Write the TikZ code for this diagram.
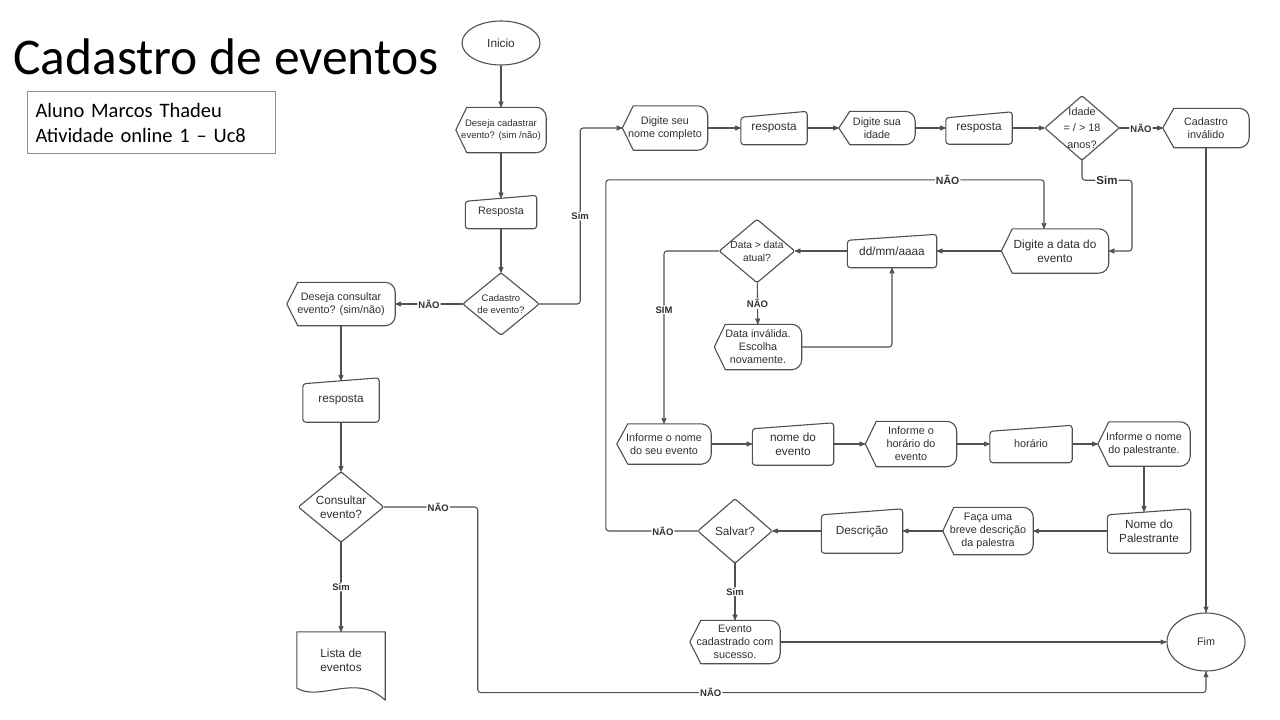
\documentclass[tikz,border=0pt]{standalone}
\usepackage{fontspec}
\setmainfont{Liberation Sans}
\newfontfamily\titulofont{Carlito}
\usetikzlibrary{calc}
\usetikzlibrary{arrows}
\usetikzlibrary{shapes.geometric}
\definecolor{traco}{HTML}{505050}
\definecolor{texto}{HTML}{303030}
\definecolor{azulcaixa}{HTML}{5B9BD5}
\tikzset{
  t9/.style={font=\fontsize{9.5}{11.5}\selectfont},
  t11/.style={font=\fontsize{10.8}{13}\selectfont},
  t12/.style={font=\fontsize{11.8}{14}\selectfont},
  base/.style={inner sep=0pt, align=center, text=texto, t11},
  tela/.style 2 args={base, minimum width=#1pt, minimum height=#2pt},
  entrada/.style 2 args={base, minimum width=#1pt, minimum height=#2pt},
  losango/.style 2 args={base, minimum width=#1pt, minimum height=#2pt},
  terminal/.style 2 args={base, ellipse, draw=traco, line width=1.1pt, minimum width=#1pt, minimum height=#2pt},
  contorno/.style={draw=traco, line width=1.1pt, line join=round},
  seta/.style={contorno, ->, >=stealth', rounded corners=3pt},
  rotulo/.style={fill=white, inner sep=1pt, text=texto, font=\bfseries\fontsize{9.5}{11}\selectfont},
}

\begin{document}
\begin{tikzpicture}[x=1pt,y=-1pt]
\fill[white] (0,0) rectangle (1280,720);
\useasboundingbox (0,0) rectangle (1280,720);

% titulo
\node[anchor=base west, inner sep=0pt, font=\titulofont\fontsize{51.5}{51.5}\selectfont] (titulo) at (13,74) {Cadastro de eventos};
\node[draw=azulcaixa, line width=1pt, anchor=north west, minimum height=62pt, text width=232pt, inner xsep=8pt, inner ysep=0pt, align=left, font=\titulofont\fontsize{20.5}{25}\selectfont] (aluno) at (27,91) {Aluno Marcos Thadeu\\Atividade online 1 – Uc8};

% coluna inicial
\node[terminal={78}{44}, t12] (ini) at (501,43) {Inicio};
\node[tela={90}{45}, t9] (dcad) at (501,130) {Deseja cadastrar\\evento? (sim /não)};
\node[entrada={71}{33}] (resp1) at (501,212) {Resposta};
\node[losango={76}{62}, t9] (cad) at (501,304) {Cadastro\\de evento?};

% consulta
\node[tela={108}{43}] (dcon) at (341,304) {Deseja consultar\\evento? (sim/não)};
\node[entrada={76}{44}, t12] (respc) at (341,400) {resposta};
\node[losango={85}{70}, t12] (cons) at (341,507) {Consultar\\evento?};
\node[base, minimum width=88pt, minimum height=56pt, t12] (lista) at (341,660) {Lista de\\eventos};

% linha de cima
\node[tela={85}{44}] (nomec) at (665,128) {Digite seu\\nome completo};
\node[entrada={66}{33}, t12] (r2) at (774,128) {resposta};
\node[tela={76}{33}] (idade) at (877,128) {Digite sua\\idade};
\node[entrada={66}{32}, t12] (r3) at (979,128) {resposta};
\node[losango={74}{64}, font=\fontsize{10.8}{16.5}\selectfont] (idd) at (1082,128) {Idade\\= / > 18\\anos?};
\node[tela={86}{39}] (inval) at (1206,128) {Cadastro\\inválido};

% data
\node[tela={107}{44}, t12] (data) at (1055,251) {Digite a data do\\evento};
\node[entrada={89}{33}, t12] (dd) at (892,251) {dd/mm/aaaa};
\node[losango={75}{63}, font=\fontsize{10.2}{13}\selectfont] (dval) at (757,251) {Data > data\\atual?};
\node[tela={87}{45}] (dinv) at (758,347) {Data inválida.\\Escolha\\novamente.};

% evento
\node[tela={94}{40}] (infn) at (664,444) {Informe o nome\\do seu evento};
\node[entrada={81}{42}, t12] (nev) at (793,444) {nome do\\evento};
\node[tela={91}{45}] (infh) at (911,444) {Informe o\\horário do\\evento};
\node[entrada={82}{37}] (hor) at (1031,444) {horário};
\node[tela={92}{44}] (infp) at (1144,444) {Informe o nome\\do palestrante.};
\node[entrada={83}{44}, t12] (npal) at (1149,531) {Nome do\\Palestrante};
\node[tela={90}{47}] (faca) at (988,531) {Faça uma\\breve descrição\\da palestra};
\node[entrada={81}{44}, t12] (descr) at (862,531) {Descrição};
\node[losango={74}{64}, t12] (salvar) at (735,531) {Salvar?};
\node[tela={90}{43}] (evt) at (735,642) {Evento\\cadastrado com\\sucesso.};
\node[terminal={78}{58}] (fim) at (1206,642) {Fim};

% contornos
\foreach \n in {dcad,dcon,nomec,idade,inval,data,dinv,infn,infh,infp,faca,evt}
  \draw[contorno] (\n.west) -- ($(\n.north west)+(11,0)$) -- ($(\n.north east)+(-10,0)$)
    arc[start angle=90, end angle=0, radius=10pt] -- ($(\n.south east)+(0,-10)$)
    arc[start angle=0, end angle=-90, radius=10pt] -- ($(\n.south west)+(11,0)$) -- cycle;
\foreach \n in {resp1,respc,r2,r3,dd,nev,hor,npal,descr}
  \draw[contorno, rounded corners=3pt] (\n.south west) -- ($(\n.north west)+(0,6)$) -- (\n.north east) -- (\n.south east) -- cycle;
\foreach \n in {cad,cons,idd,dval,salvar}
  \draw[contorno, rounded corners=1.5pt] (\n.north) -- (\n.east) -- (\n.south) -- (\n.west) -- cycle;
\draw[contorno] (lista.south west) -- (lista.north west) -- (lista.north east) -- ($(lista.south east)+(0,12)$)
  .. controls ($(lista.south)+(15,-16)$) and ($(lista.south)+(-20,14)$) .. (lista.south west);

% ligacoes
\draw[seta] (ini) -- (dcad);
\draw[seta, shorten >=-3pt] (dcad) -- (resp1);
\draw[seta] (resp1) -- (cad);
\draw[seta] (cad.west) -- node[rotulo]{NÃO} (dcon.east);
\draw[seta] (cad.east) -- ++(41,0) |- node[rotulo, pos=.25]{Sim} (nomec.west);
\draw[seta, shorten >=-3pt] (dcon) -- (respc);
\draw[seta] (respc) -- (cons);
\draw[seta] (cons) -- node[rotulo]{Sim} (lista);
\draw[seta] (cons.east) -- node[rotulo, pos=.58]{NÃO} ++(94,0) |- node[rotulo, pos=.66]{NÃO} ($(fim.south)+(0,21)$) -- (fim.south);

\draw[seta] (nomec) -- (r2);
\draw[seta] (r2) -- (idade);
\draw[seta] (idade) -- (r3);
\draw[seta] (r3) -- (idd);
\draw[seta] (idd) -- node[rotulo]{NÃO} (inval);
\draw[seta] (idd.south) -- ++(0,20) -- node[rotulo, font=\bfseries\fontsize{11.5}{13}\selectfont]{Sim} ++(50,0) |- (data.east);
\draw[seta] (inval) -- (fim);

\draw[seta] (data) -- (dd);
\draw[seta] (dd) -- (dval);
\draw[seta] (dval.west) -| node[rotulo, pos=.67]{SIM} (infn.north);
\draw[seta] (dval) -- node[rotulo]{NÃO} (dinv);
\draw[seta] (dinv.east) -| (dd.south);

\draw[seta] (infn) -- (nev);
\draw[seta] (nev) -- (infh);
\draw[seta] (infh) -- (hor);
\draw[seta] (hor) -- (infp);
\draw[seta, shorten >=-3pt] (infp.south) -- (infp.south |- npal.north);
\draw[seta] (npal) -- (faca);
\draw[seta] (faca) -- (descr);
\draw[seta] (descr) -- (salvar);
\draw[seta] (salvar.west) -- node[rotulo, pos=.38]{NÃO} ++(-92,0) |- node[rotulo, pos=.89, font=\bfseries\fontsize{10.5}{12}\selectfont]{NÃO} ($(data.north)+(-11,-49)$) -- ($(data.north)+(-11,0)$);
\draw[seta] (salvar) -- node[rotulo]{Sim} (evt);
\draw[seta] (evt) -- (fim);
\end{tikzpicture}
\end{document}
